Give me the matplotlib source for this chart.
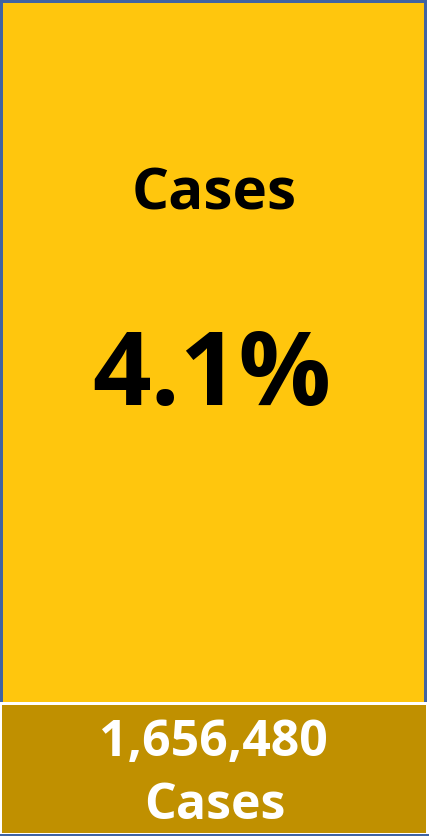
import matplotlib
matplotlib.use("Agg")
import matplotlib.pyplot as plt
from matplotlib.patches import Rectangle

# Data
metric_label = "Cases"
percent_values = [4.1]
count_values = [1656480]
count_unit = "Cases"

W, H = 429, 836
fig = plt.figure(figsize=(W / 100, H / 100), dpi=100)
ax = fig.add_axes([0, 0, 1, 1])
ax.set_xlim(0, W)
ax.set_ylim(H, 0)
ax.axis("off")
fig.patch.set_facecolor("white")

yellow = "#FFC60D"
gold = "#C09000"
blue = "#4063A3"

# Top card with blue border
ax.add_patch(Rectangle((0, 0), 427, 702, facecolor=blue, edgecolor="none"))
ax.add_patch(Rectangle((3, 3), 421, 699, facecolor=yellow, edgecolor="none"))

# Bottom band
ax.add_patch(Rectangle((0, 834), 429, 2, facecolor=blue, edgecolor="none"))
ax.add_patch(Rectangle((2, 705), 424, 128, facecolor=gold, edgecolor="none"))

font = ["Open Sans", "DejaVu Sans"]
ax.text(214, 195, metric_label, ha="center", va="center", fontsize=42,
        fontweight="bold", family=font, color="black")
ax.text(212, 378, f"{percent_values[0]:.1f}%", ha="center", va="center",
        fontsize=74, fontweight="bold", family=font, color="black")
ax.text(213, 743, f"{count_values[0]:,}", ha="center", va="center",
        fontsize=36, fontweight="bold", family=font, color="white")
ax.text(215, 806, count_unit, ha="center", va="center", fontsize=36,
        fontweight="bold", family=font, color="white")

fig.savefig("out.png", dpi=100, facecolor="white")
